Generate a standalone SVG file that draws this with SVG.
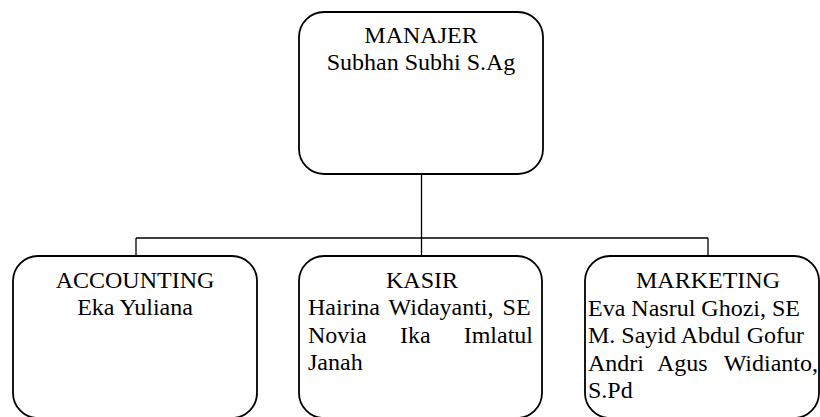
<svg xmlns="http://www.w3.org/2000/svg" width="820" height="417" viewBox="0 0 820 417">
<style>
.box{fill:#fff;stroke:#000;stroke-width:1.8}
.conn{fill:none;stroke:#000;stroke-width:1.3}
text{font-family:'Liberation Serif','Times New Roman',serif;font-size:24px;fill:#000}
.c{text-anchor:middle}
.e{text-anchor:end}
</style>
<rect width="820" height="417" fill="#fff"/>
<g id="connectors">
<path class="conn" d="M421.5 174V238M136 238H708M136 238V256M421.5 238V256M708 238V256"/>
</g>
<g id="manajer">
<rect class="box" x="299" y="12" width="244" height="162" rx="25" ry="25"/>
<text class="c" x="421" y="43">MANAJER</text>
<text class="c" x="421" y="70">Subhan Subhi S.Ag</text>
</g>
<g id="accounting">
<rect class="box" x="13" y="256" width="244" height="162" rx="25" ry="25"/>
<text class="c" x="135" y="288">ACCOUNTING</text>
<text class="c" x="135" y="315">Eka Yuliana</text>
</g>
<g id="kasir">
<rect class="box" x="299" y="256" width="243" height="162" rx="25" ry="25"/>
<text class="c" x="422" y="288">KASIR</text>
<text x="308" y="315" word-spacing="3">Hairina Widayanti, SE</text>
<text x="308" y="343">Novia</text>
<text x="400" y="343">Ika</text>
<text class="e" x="533" y="343">Imlatul</text>
<text x="308" y="370">Janah</text>
</g>
<g id="marketing">
<rect class="box" x="585" y="256" width="234" height="162" rx="25" ry="25"/>
<text class="c" x="708" y="288">MARKETING</text>
<text x="588" y="316">Eva Nasrul Ghozi, SE</text>
<text x="588" y="343">M. Sayid Abdul Gofur</text>
<text x="588" y="371">Andri</text>
<text x="657" y="371">Agus</text>
<text class="e" x="818" y="371">Widianto,</text>
<text x="588" y="398">S.Pd</text>
</g>
</svg>
